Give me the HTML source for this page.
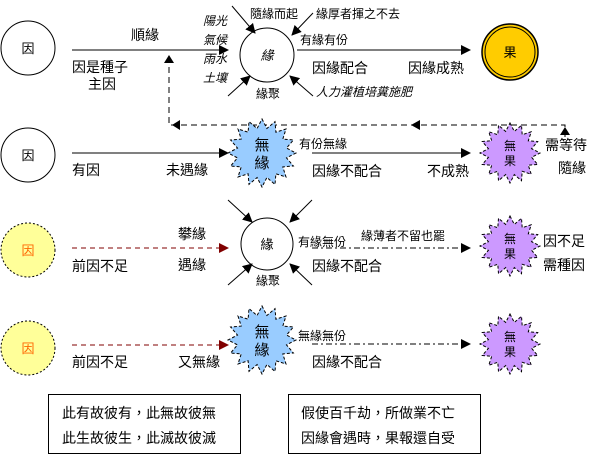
<!DOCTYPE html>
<html><head><meta charset="utf-8"><style>
body{margin:0;background:#fff}
svg{display:block;font-family:"Liberation Sans","Noto Sans CJK TC","WenQuanYi Zen Hei",sans-serif}
</style></head><body>
<svg id="s" width="606" height="455" viewBox="0 0 606 455" xmlns="http://www.w3.org/2000/svg">
<defs>
<marker id="a" markerWidth="10" markerHeight="10" refX="9" refY="5" orient="auto" markerUnits="userSpaceOnUse"><path d="M0,0 L10,5 L0,10z" fill="#000"/></marker>
<marker id="r" markerWidth="10" markerHeight="10" refX="9" refY="5" orient="auto" markerUnits="userSpaceOnUse"><path d="M0,0 L10,5 L0,10z" fill="#800000"/></marker>
</defs>
<g font-size="14" fill="#000">
<circle cx="28" cy="48" r="27" fill="#fff" stroke="#000"/>
<text x="28" y="53" font-size="13" text-anchor="middle">因</text>
<line x1="72" y1="50" x2="228" y2="50" stroke="#000" marker-end="url(#a)"/>
<text x="145" y="40" text-anchor="middle">順緣</text>
<text x="72" y="72">因是種子</text>
<text x="88" y="89">主因</text>
<g font-size="12" font-style="italic">
<text x="203" y="25">陽光</text><text x="203" y="44">氣候</text><text x="203" y="63">雨水</text><text x="203" y="82">土壤</text>
</g>
<circle cx="267" cy="55" r="27" fill="#fff" stroke="#000"/>
<text x="267" y="60" font-size="13" text-anchor="middle" font-style="italic">緣</text>
<line x1="232" y1="6" x2="255" y2="33" stroke="#000" marker-end="url(#a)"/>
<line x1="313" y1="13" x2="292" y2="35" stroke="#000" marker-end="url(#a)"/>
<line x1="228" y1="96" x2="250" y2="76" stroke="#000" marker-end="url(#a)"/>
<line x1="313" y1="96" x2="290" y2="76" stroke="#000" marker-end="url(#a)"/>
<text x="250" y="18" font-size="12">隨緣而起</text>
<text x="316" y="18" font-size="12">緣厚者揮之不去</text>
<text x="300" y="44" font-size="12">有緣有份</text>
<text x="256" y="98" font-size="12">緣聚</text>
<text x="316" y="96" font-size="12" font-style="italic">人力灌植培糞施肥</text>
<line x1="297" y1="50" x2="470" y2="50" stroke="#000" marker-end="url(#a)"/>
<text x="312" y="73">因緣配合</text>
<text x="408" y="73">因緣成熟</text>
<circle cx="510" cy="52" r="28" fill="#ffcc00" stroke="#000" stroke-width="1.5"/>
<circle cx="510" cy="52" r="25" fill="none" stroke="#000"/>
<text x="510" y="57" font-size="13" text-anchor="middle">果</text>
<path d="M565 137 L565 125 L169 125 L169 60" fill="none" stroke="#000" stroke-dasharray="6,4"/>
<path d="M169 55 L164 63 L174 63z M565 127 L560 135 L570 135z M411 125 L420 120 L420 130z M172 125 L180 120 L180 130z" fill="#000"/>
<circle cx="28" cy="155" r="27" fill="#fff" stroke="#000"/>
<text x="28" y="160" font-size="13" text-anchor="middle">因</text>
<line x1="72" y1="153" x2="228" y2="153" stroke="#000" marker-end="url(#a)"/>
<text x="72" y="175">有因</text>
<text x="166" y="175">未遇緣</text>
<text x="299" y="148" font-size="12">有份無緣</text>
<line x1="312" y1="153" x2="470" y2="153" stroke="#000" marker-end="url(#a)"/>
<text x="312" y="176">因緣不配合</text>
<text x="427" y="176">不成熟</text>
<text x="545" y="150">需等待</text>
<text x="558" y="173">隨緣</text>
<circle cx="28" cy="250" r="27" fill="#ffff99" stroke="#000" stroke-dasharray="2,2"/>
<text x="28" y="255" font-size="13" text-anchor="middle" fill="#ff6600">因</text>
<line x1="72" y1="248" x2="228" y2="248" stroke="#800000" stroke-dasharray="5,4" marker-end="url(#r)"/>
<text x="72" y="271">前因不足</text>
<text x="178" y="239">攀緣</text>
<text x="178" y="270">遇緣</text>
<circle cx="267" cy="244" r="26" fill="#fff" stroke="#000"/>
<text x="267" y="249" font-size="13" text-anchor="middle">緣</text>
<line x1="228" y1="200" x2="252" y2="222" stroke="#000" marker-end="url(#a)"/>
<line x1="312" y1="200" x2="290" y2="222" stroke="#000" marker-end="url(#a)"/>
<line x1="228" y1="285" x2="252" y2="264" stroke="#000" marker-end="url(#a)"/>
<line x1="312" y1="285" x2="290" y2="264" stroke="#000" marker-end="url(#a)"/>
<text x="256" y="285" font-size="12">緣聚</text>
<text x="298" y="246" font-size="12">有緣無份</text>
<text x="361" y="240" font-size="12">緣薄者不留也罷</text>
<line x1="312" y1="248" x2="470" y2="248" stroke="#000" stroke-dasharray="6,3,2,3" marker-end="url(#a)"/>
<text x="312" y="271">因緣不配合</text>
<text x="543" y="246">因不足</text>
<text x="543" y="270">需種因</text>
<circle cx="28" cy="348" r="27" fill="#ffff99" stroke="#000" stroke-dasharray="2,2"/>
<text x="28" y="353" font-size="13" text-anchor="middle" fill="#ff6600">因</text>
<line x1="72" y1="345" x2="228" y2="345" stroke="#800000" stroke-dasharray="5,4" marker-end="url(#r)"/>
<text x="72" y="367">前因不足</text>
<text x="178" y="367">又無緣</text>
<text x="298" y="340" font-size="12">無緣無份</text>
<line x1="312" y1="344" x2="470" y2="344" stroke="#000" stroke-dasharray="6,3,2,3" marker-end="url(#a)"/>
<text x="312" y="367">因緣不配合</text>
<rect x="48.5" y="394.5" width="192" height="59" fill="#fff" stroke="#000"/>
<text x="62" y="418">此有故彼有，此無故彼無</text>
<text x="62" y="443">此生故彼生，此滅故彼滅</text>
<rect x="288.5" y="394.5" width="192" height="59" fill="#fff" stroke="#000"/>
<text x="301" y="418">假使百千劫，所做業不亡</text>
<text x="301" y="443">因緣會遇時，果報還自受</text>
</g>
<g id="stars"></g>
</svg>
<script>
function star(cx,cy,R,r,n,fill){
 var p=[];for(var i=0;i<2*n;i++){var a=Math.PI*i/n-Math.PI/2;var rr=i%2?r:R;p.push((cx+rr*Math.cos(a)).toFixed(1)+','+(cy+rr*Math.sin(a)).toFixed(1));}
 return '<polygon points="'+p.join(' ')+'" fill="'+fill+'" stroke="#000" stroke-dasharray="3,2"/>';
}
function lbl(cx,cy,a,b,fs){return '<text x="'+cx+'" y="'+(cy-3)+'" font-size="'+fs+'" text-anchor="middle">'+a+'</text><text x="'+cx+'" y="'+(cy+fs+0)+'" font-size="'+fs+'" text-anchor="middle">'+b+'</text>';}
var h='';
h+=star(262,153,34,25,16,'#99ccff')+lbl(262,153,'無','緣',15);
h+=star(510,153,30,22,16,'#cc99ff')+lbl(510,153,'無','果',12);
h+=star(510,246,30,22,16,'#cc99ff')+lbl(510,246,'無','果',12);
h+=star(262,340,34,25,16,'#99ccff')+lbl(262,340,'無','緣',15);
h+=star(510,344,30,22,16,'#cc99ff')+lbl(510,344,'無','果',12);
document.getElementById('stars').innerHTML=h;
</script>
</body></html>
